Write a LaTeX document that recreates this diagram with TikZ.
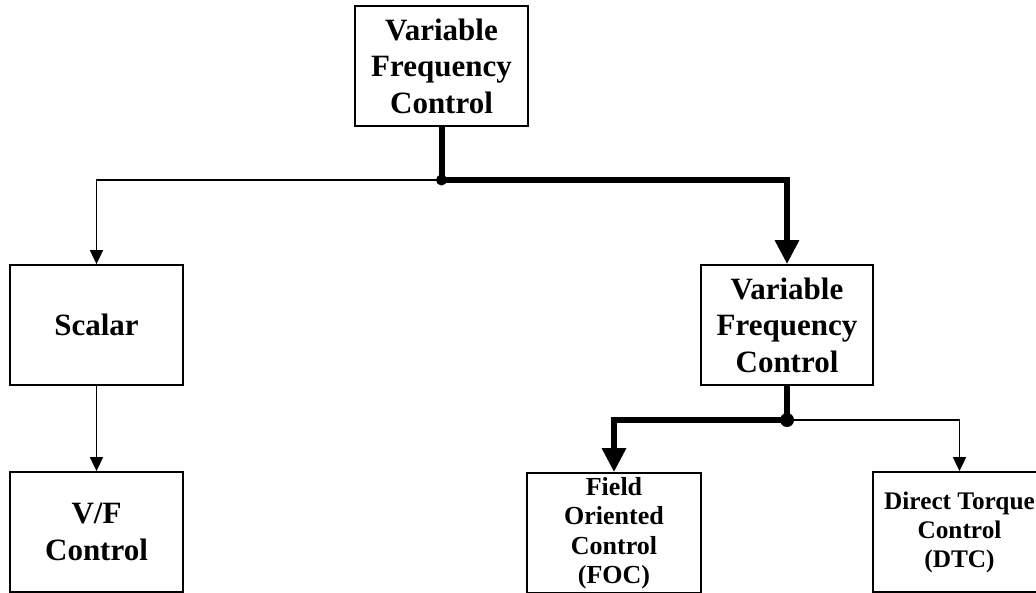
\documentclass[tikz,border=0pt]{standalone}
\usepackage{fontspec}
\setmainfont{Liberation Serif}
\usetikzlibrary{arrows.meta}
\tikzset{
  box/.style={draw, line width=1.8pt, minimum width=173pt, minimum height=120pt, inner sep=0pt, align=center, font=\fontsize{31}{36.5}\selectfont\bfseries},
  smallbox/.style={box, font=\fontsize{26}{29.5}\selectfont\bfseries},
  thinline/.style={line width=1.8pt, -{Triangle[length=14pt,width=13pt]}},
  thickline/.style={line width=6pt, line join=miter, -{Triangle[length=24pt,width=23pt]}},
  thickseg/.style={line width=6pt},
  dot/.style={circle, fill=black, inner sep=0pt, minimum size=#1}
}
\begin{document}
\begin{tikzpicture}[x=1pt,y=-1pt]
\useasboundingbox[fill=white] (0,0) rectangle (1036,592);
\node[box] (top) at (441.5,66) {Variable\\Frequency\\Control};
\node[box] (scal) at (96.5,325) {Scalar};
\node[box, minimum width=172pt] (vfc) at (787,325) {Variable\\Frequency\\Control};
\node[box] (vf) at (96.5,532) {V/F\\Control};
\node[smallbox, minimum width=174pt] (foc) at (614,533) {Field\\Oriented\\Control\\(FOC)};
\node[smallbox, font=\fontsize{25.3}{29}\selectfont\bfseries] (dtc) at (959.5,532) {Direct Torque\\Control\\(DTC)};
\coordinate (j1) at (441.5,180);
\coordinate (j2) at (787,420);
% connectors
\draw[thinline] (j1) -| (scal.north);
\draw[thickseg] (top.south) -- (j1);
\draw[thickline] (j1) -| (vfc.north);
\node[dot=11pt] at (j1) {};
\draw[thinline] (scal.south) -- (vf.north);
\draw[thinline] (j2) -| (dtc.north);
\draw[thickseg] (vfc.south) -- (j2);
\draw[thickline] (j2) -| (foc.north);
\node[dot=14pt] at (j2) {};
\end{tikzpicture}
\end{document}
